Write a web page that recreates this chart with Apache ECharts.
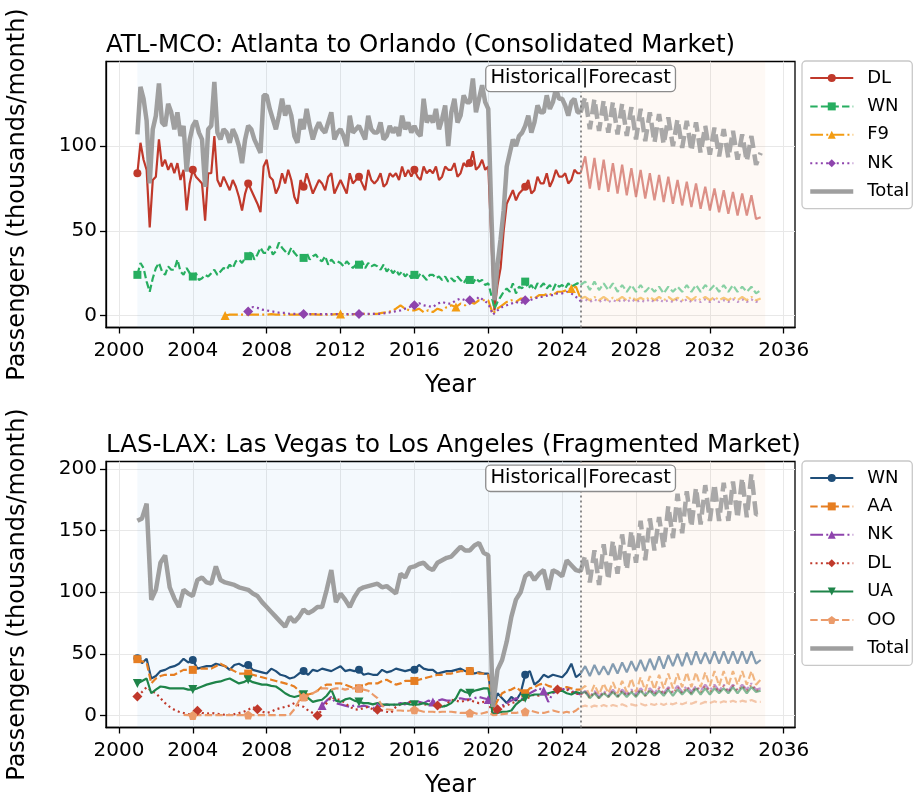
<!DOCTYPE html>
<html><head><meta charset="utf-8">
<script src="https://cdn.jsdelivr.net/npm/echarts@6/dist/echarts.min.js"></script>
<style>html,body{margin:0;padding:0;background:#fff}#c{width:915px;height:797px}</style>
</head><body><div id="c"></div>
<script>
// ---------- DATA (thousands of passengers / month) ----------
const Q = 0.25;      // quarterly samples
const B = 1 / 6;     // bimonthly samples
const HIST_START = 2001, FCST_START = 2025, FCST_END = 2035;
const X_TICKS = [2000,2004,2008,2012,2016,2020,2024,2028,2032,2036];
const Y_TICKS_ATL = [0,50,100];
const Y_TICKS_LAS = [0,50,100,150,200];

// ATL-MCO (history bimonthly for DL / WN / Total, quarterly otherwise; forecast quarterly)
const ATL_DL_H = [84,102,92,86,52,80, 82,104,88,92,86,90, 84,90,80,86,62,78, 86,82,80,78,56,84, 84,106,80,76,82,78, 74,80,76,70,62,72, 78,74,70,66,61,88, 92,82,80,72,76,84, 78,86,80,70,66,80, 76,84,78,72,76,80, 78,74,82,84,72,76, 80,76,72,84,78,80, 82,78,74,86,80,78, 80,84,76,78,84,82, 84,80,88,82,86,82, 86,82,80,88,84,86, 84,88,80,82,88,86, 86,90,82,84,90,88, 90,97,86,88,92,86, 88,45,3,18,28,50, 66,70,74,68,72,74, 76,80,72,74,82,78, 78,84,76,80,86,82, 82,84,78,80,86,84];
const ATL_DL_F = [84,94,75,93, 74,92,73,90, 72,89,71,87, 70,86,69,84, 68,83,67,82, 66,80,65,79, 64,78,63,76, 62,75,61,74, 60,73,59,72, 59,71,57,58];
const ATL_WN_H = [24,31,28,20,14,22, 28,31,26,24,29,27, 27,33,26,24,28,25, 23,25,21,22,24,23, 25,27,24,26,28,27, 30,28,32,33,31,34, 35,38,33,36,40,37, 37,41,36,38,43,40, 38,36,40,37,35,34, 34,37,33,35,36,33, 32,35,30,33,31,32, 31,29,32,30,28,30, 30,32,28,31,29,30, 29,27,30,26,28,25, 27,24,26,23,25,22, 24,22,25,23,21,24, 24,22,23,21,23,20, 22,20,23,21,19,22, 21,19,22,20,21,18, 19,12,4,8,11,14, 16,14,19,13,17,16, 20,16,18,15,19,17, 19,16,18,15,19,17, 18,16,19,17,18,19];
const ATL_WN_F = [18,20,15,20, 15,19,15,19, 14,18,14,18, 14,18,14,17, 14,17,13,17, 14,17,14,18, 14,18,14,18, 15,18,14,18, 14,18,14,17, 14,17,13,15];
const ATL_F9_START = 2005.75;
const ATL_F9_H = [0, 0.5,0.5,0.5,0.5, 0.5,0.5,0.5,0.5, 0.5,0.8,0.5,0.5, 0.5,0.5,0.5,0.5, 0.5,0.5,0.8,0.5, 0.5,0.5,0.5,0.8, 0.8,0.8,0.5,0.8, 0.8,1,0.8,1, 1,1.5,2,2.5, 4,6,4,3, 3,4,2,3, 2,4,3,5, 6,5,7,6, 8,7,9,9, 9,1,4,6, 8,9,8,10, 10,11,10,12, 12,13,12,14, 14,15,16,17];
const ATL_F9_F = [10,11,9,11, 9,11,9,10.5, 9,11,9,11, 9,10.5,9,11, 9,11,9,11, 9,10.5,9,11, 9,11,9,11, 9,11,9,10.5, 9,11,9,11, 9,11,9,10];
const ATL_NK_START = 2007;
const ATL_NK_H = [2.4,5,4.5,3.5, 3,2.5,2,1.5, 1.5,1,1,1, 0.8,0.8,0.8,0.8, 0.8,0.8,0.8,0.8, 0.8,0.8,0.8,0.8, 0.8,1,1,1, 1,1,1.5,2, 2.5,3,4,5, 6,7.3,6,5.5, 5,7,8,7, 7,9,10,9, 9,8.3,11,9, 7,0.5,3,5, 6,7,8,7, 9,9,10,11, 11,12,12,13, 13,14,13,11];
const ATL_NK_F = [8.5,9.5,8,9.5, 8,9.5,8,9, 8,9.5,8,9.5, 8,9,8,9.5, 8,9.5,8,9, 8,9.5,8,9.5, 8,9,8,9.5, 8,9.5,8,9, 8,9.5,8,9.5, 8,9.5,8,9];
const ATL_TOT_H = [107,135,128,115,78,110, 118,137,114,112,125,120, 110,120,106,112,85,104, 112,115,108,104,76,110, 112,138,108,104,110,108, 102,110,106,100,90,104, 112,110,104,100,96,130, 130,122,116,110,118,128, 118,124,118,106,102,116, 110,122,112,104,110,114, 110,108,114,120,104,108, 110,106,100,118,108,110, 112,108,104,118,110,108, 108,114,104,106,112,108, 111,106,118,110,114,108, 112,108,106,128,114,118, 114,122,110,116,124,100, 120,128,114,118,130,126, 126,140,120,128,136,126, 122,60,9,30,45,62, 88,96,104,100,106,108, 112,118,108,114,124,120, 120,130,122,126,134,128, 128,124,118,126,128,120];
const ATL_TOT_F = [120,129,110,128, 109,127,108,126, 107,125,106,123, 104,122,103,120, 102,119,101,117, 100,116,99,115, 97,114,96,112, 95,111,94,110, 93,109,92,107, 91,106,89,96];

// LAS-LAX (quarterly)
const LAS_WN_H = [46.5,42.5,46,30, 32,36,37,39, 40,42,46,43, 45,38,39,40, 40,42,41,40, 37,41,42,40, 41,37,36,35, 34,38,36,33, 32,30,31,34, 36,33,37,36, 38,37,36,38, 40,36,37,36, 37,33,34,33, 33,37,35,36, 38,37,36,37, 37,41,38,37, 37,34,35,36, 36,37,38,36, 36,34,35,34, 34,6,18,14, 10,15,12,18, 33,36,25,28, 33,31,33,32, 31,35,42,31];
const LAS_WN_F = [34,40,32,41, 33,40,33,42, 34,43,35,44, 36,45,36,46, 37,48,38,49, 40,50,40,51, 41,52,42,51, 42,52,42,52, 42,52,42,52, 42,52,42,45];
const LAS_AA_H = [45.7,44,43,26, 30,32,33,33, 33,35,37,37, 37,38,38,38, 38,40,42,40, 38,36,34,34, 34,33,32,31, 30,29,28,27, 26,25,23.5,20, 15,17,18,20, 23.5,25,25,26, 26,25,23.5,22, 22,24,26,26, 26,28,29,27, 25,26,28,28, 28,29,30,31, 32,33,33,34, 34,35,36,36, 36,35,34,34, 33,4,12,18, 20,21,23,20, 18,22,23,25, 26,24,23,22, 22,23,22,21];
const LAS_AA_F = [21,24,16,25, 17,26,18,27, 18,28,19,30, 19,31,20,32, 21,33,22,34, 22,34,23,35, 23,35,23,35, 24,36,24,36, 24,36,25,36, 25,36,25,29];
const LAS_NK_START = 2011;
const LAS_NK_H = [8,12,15,10, 9,8,7,8, 7,8,7,6, 7,8,9,8, 9,10,9,11, 10,11,10,12, 11,12,13,12, 12,13,14,13, 13,14,15,14, 13,1,4,8, 10,12,14,13, 15,18,20,22, 20,11,18,20, 21,22,20,18];
const LAS_NK_F = [17,20,15,20, 15,20,16,21, 16,21,17,21, 17,22,18,22, 18,23,18,23, 19,24,19,24, 19,24,20,25, 20,25,20,25, 20,25,21,25, 21,26,21,22];
const LAS_DL_H = [15.4,19,23,20, 18,14,10,7, 4.6,3,2,1, 0.5,3.8,2,1.5, 2,1.5,1,0.5, 0.5,1,2,3, 4.6,6.8,5,3, 2,3,5,6, 7,8,10,8, 7,4,2,0, 4.6,10,15,13, 12.7,10,7,5, 4.6,6,7,5, 4.6,4,3,2.4, 7,9,10,11, 11,10,8.7,9, 10,8,6,9, 12.7,12,11,12, 12.7,11,10,11, 11,1,5,7, 8,10,11,12, 13,15,17,16, 18,17,19,21, 20,21,19,18];
const LAS_DL_F = [17,19,14,19, 14,19,15,20, 15,20,16,20, 16,21,16,21, 17,22,17,22, 18,23,18,23, 18,23,19,24, 19,24,19,24, 19,24,20,24, 20,25,20,21];
const LAS_UA_H = [26,28,30,18, 21,23.5,23,22, 22,22,22,21, 21,22,23.5,25, 26,27,27.6,29, 30,28,26,27, 29,27,26,25, 25,24,23.5,21, 18,16,15,16, 16.8,14,11,12, 12.7,16,21,12, 11,13,14,12, 11,10,10,9, 10,9,8.7,8.7, 8.7,9,10,9, 8.7,9,10,9, 8.7,8,7,8, 10,14,21,19, 18,20,21,22, 22,0.5,2,3, 3,4,9,12, 14,16,17,17, 17,18,19,20, 20,18,17,19];
const LAS_UA_F = [18,19,14,18, 14,18,15,19, 15,19,15,19, 15,20,16,20, 16,20,16,21, 16,21,17,21, 17,22,17,22, 17,22,18,22, 18,23,18,23, 18,23,19,20];
const LAS_OO_START = 2003.5;
const LAS_OO_H = [0.5,0.3, 0,0.3,0.3,0.3, 0.3,0.3,0.3,0.3, 0.3,0.3,0.3,0.3, 0.3,0.3,0.3,0.3, 0.3,0.3,0.3,0.3, 0.3,0.5,5,12, 15,16,18,20, 22,22,21,22, 22,21,22,22, 22,21,20,17, 14,8,5,4.6, 4,4,3.5,4, 4.6,4,3,3, 3,2.5,3,3, 3,2.5,2,2, 2,2,1,2, 3,0.3,0.5,1, 1.5,2,2,3, 3,4,3,2, 2,3,4,3, 2,3,2,4];
const LAS_OO_F = [7,8,6.5,8, 7,8.5,7,8.5, 7.5,9,7.5,9, 8,9.5,8,9.5, 8.5,10,8.5,10, 9,10.5,9,10.5, 9.5,11,9.5,11, 10,11.5,10,11.5, 10.5,12,10.5,12, 11,12.5,11,11];
const LAS_TOT_H = [158,160,172,94, 102,124,130,104, 95,88,102,99, 97,110,112,108, 107,121,110,108, 107,106,104,103, 102,99,97,92, 88,84,80,76, 72,80,76,80, 86,83,85,88, 88,102,118,92, 99,94,88,96, 102,104,105,106, 107,104,105,102, 99,115,112,120, 121,123,124,120, 118,124,126,128, 129,133,137,134, 134,138,140,132, 130,7,37,45, 60,80,94,100, 113,116,110,115, 118,102,118,116, 113,126,122,118];
const LAS_TOT_F = [117,130,108,134, 106,139,110,142, 115,147,118,150, 124,158,126,160, 134,161,136,170, 144,180,148,182, 153,185,155,187, 158,188,158,189, 158,190,160,193, 161,196,163,164];

// ---------- STYLE ----------
const FONT = 'DejaVu Sans';
const DASH = [7.4, 3.2], DOT = [2, 3.3], DASHDOT = [12.8, 3.2, 2, 3.2], TOT_DASH = [14.8, 6.4];
const TRI_DOWN = 'path://M-5,-4 L5,-4 L0,5 Z';
const PENTA = 'path://M0,-10 L9.5,-3.1 L5.9,8.1 L-5.9,8.1 L-9.5,-3.1 Z';
const TOTAL_COLOR = '#9a9a9a', TOTAL_W = 4.5;

function mk(o) {
  const start = o.start ?? HIST_START;
  const step = o.step || Q;
  const off = o.offset || 0;
  const hData = o.hist.map((v, i) => ({
    value: [start + i * step, v],
    symbol: (o.sym && i >= off && (i - off) % o.every === 0) ? o.sym : 'none'
  }));
  hData.push({ value: [FCST_START, o.fc[0]], symbol: 'none' });
  const w = o.width || 2.2;
  const hist = {
    type: 'line', name: o.name, xAxisIndex: o.g, yAxisIndex: o.g, data: hData,
    symbol: o.sym || 'none', symbolSize: o.size || 8, showSymbol: true, showAllSymbol: true,
    itemStyle: { color: o.color, opacity: o.op || 1 },
    lineStyle: { color: o.color, width: w, type: o.dash || 'solid', opacity: o.op || 1 },
    z: o.z || 3, silent: true, animation: false
  };
  const fc = {
    type: 'line', name: o.name + ' forecast', xAxisIndex: o.g, yAxisIndex: o.g,
    data: o.fc.map((v, i) => [FCST_START + i * Q, v]),
    symbol: 'none', showSymbol: false,
    lineStyle: { color: o.color, width: w, type: o.fcDash || o.dash || 'solid', opacity: o.fcOp || 0.55 },
    z: o.z || 3, silent: true, animation: false
  };
  return [hist, fc];
}

function backdrop(g, annY) {
  return {
    type: 'line', name: 'bg' + g, xAxisIndex: g, yAxisIndex: g, data: [], z: 1, silent: true,
    markArea: {
      silent: true,
      data: [
        [{ xAxis: HIST_START, itemStyle: { color: 'rgba(52,152,219,0.055)' } }, { xAxis: FCST_START }],
        [{ xAxis: FCST_START, itemStyle: { color: 'rgba(230,126,34,0.045)' } }, { xAxis: FCST_END }]
      ]
    },
    markLine: {
      silent: true, symbol: ['none', 'none'], label: { show: false },
      lineStyle: { color: '#808080', type: [2, 3], width: 1.8 },
      data: [{ xAxis: FCST_START }]
    },
    markPoint: {
      silent: true, symbol: 'rect', symbolSize: 1, itemStyle: { color: 'rgba(0,0,0,0)' },
      label: {
        show: true, position: 'inside', formatter: 'Historical|Forecast', fontFamily: FONT,
        fontSize: 19.5, color: '#000', backgroundColor: '#fff', borderColor: '#8c8c8c',
        borderWidth: 1.3, borderRadius: 4, padding: [3, 4, 2, 4]
      },
      data: [{ coord: [FCST_START, annY] }]
    }
  };
}

const series = [
  backdrop(0, 140),
  ...mk({ g: 0, name: 'DL', color: '#c0392b', hist: ATL_DL_H, step: B, fc: ATL_DL_F, sym: 'circle', size: 8, every: 18 }),
  ...mk({ g: 0, name: 'WN', color: '#27ae60', hist: ATL_WN_H, step: B, fc: ATL_WN_F, dash: DASH, sym: 'rect', size: 8, every: 18 }),
  ...mk({ g: 0, name: 'F9', color: '#f39c12', hist: ATL_F9_H, fc: ATL_F9_F, start: ATL_F9_START, dash: DASHDOT, sym: 'triangle', size: 9, every: 25 }),
  ...mk({ g: 0, name: 'NK', color: '#8e44ad', hist: ATL_NK_H, fc: ATL_NK_F, start: ATL_NK_START, dash: DOT, sym: 'diamond', size: 10, every: 12 }),
  ...mk({ g: 0, name: 'Total', color: TOTAL_COLOR, hist: ATL_TOT_H, step: B, fc: ATL_TOT_F, width: TOTAL_W, op: 0.95, fcDash: TOT_DASH, fcOp: 0.85, z: 4 }),
  backdrop(1, 192.5),
  ...mk({ g: 1, name: 'WN#2', color: '#1f4e79', hist: LAS_WN_H, fc: LAS_WN_F, sym: 'circle', size: 8, every: 12 }),
  ...mk({ g: 1, name: 'AA#2', color: '#e67e22', hist: LAS_AA_H, fc: LAS_AA_F, dash: DASH, sym: 'rect', size: 8, every: 12 }),
  ...mk({ g: 1, name: 'NK#2', color: '#8e44ad', hist: LAS_NK_H, fc: LAS_NK_F, start: LAS_NK_START, dash: DASHDOT, sym: 'triangle', size: 9, every: 12 }),
  ...mk({ g: 1, name: 'DL#2', color: '#c0392b', hist: LAS_DL_H, fc: LAS_DL_F, dash: DOT, sym: 'diamond', size: 10, every: 13 }),
  ...mk({ g: 1, name: 'UA#2', color: '#1e8449', hist: LAS_UA_H, fc: LAS_UA_F, sym: TRI_DOWN, size: 9, every: 12 }),
  ...mk({ g: 1, name: 'OO#2', color: '#eb9b6a', hist: LAS_OO_H, fc: LAS_OO_F, start: LAS_OO_START, dash: DASH, sym: PENTA, size: 9, every: 12, offset: 2 }),
  ...mk({ g: 1, name: 'Total#2', color: TOTAL_COLOR, hist: LAS_TOT_H, fc: LAS_TOT_F, width: TOTAL_W, op: 0.95, fcDash: TOT_DASH, fcOp: 0.85, z: 4 })
];

const GRIDS = [{ top: 61.5 }, { top: 461.5 }];
const YRANGE = [[-7.1, 150], [-9.8, 206.2]];
const YTICKS = [Y_TICKS_ATL, Y_TICKS_LAS];
const fmt = v => String(v);

const legendBase = {
  orient: 'vertical', left: 802, padding: [8, 3, 8, 6], itemGap: 10.4, itemWidth: 43, itemHeight: 10,
  borderColor: '#c8c8c8', borderWidth: 1.3, borderRadius: 4, backgroundColor: '#fff',
  textStyle: { fontSize: 18, color: '#000', fontFamily: FONT, padding: [0, 0, 0, 9] },
  selectedMode: false, formatter: n => n.split('#')[0]
};
const totalLegend = name => ({ name, itemStyle: { opacity: 0 }, lineStyle: { width: TOTAL_W, color: TOTAL_COLOR, type: 'solid' } });

const option = {
  animation: false,
  textStyle: { fontFamily: FONT },
  title: [
    { text: 'ATL-MCO: Atlanta to Orlando (Consolidated Market)', left: 106, top: 33, padding: 0,
      textStyle: { fontSize: 24.5, fontWeight: 'normal', color: '#000', fontFamily: FONT } },
    { text: 'LAS-LAX: Las Vegas to Los Angeles (Fragmented Market)', left: 106, top: 433, padding: 0,
      textStyle: { fontSize: 24.5, fontWeight: 'normal', color: '#000', fontFamily: FONT } }
  ],
  legend: [
    Object.assign({}, legendBase, { top: 61, data: ['DL', 'WN', 'F9', 'NK', totalLegend('Total')] }),
    Object.assign({}, legendBase, { top: 461, data: ['WN#2', 'AA#2', 'NK#2', 'DL#2', 'UA#2', 'OO#2', totalLegend('Total#2')] })
  ],
  grid: GRIDS.map(g => ({ left: 106, top: g.top, width: 689, height: 266, show: true,
    borderColor: '#000', borderWidth: 1.3, backgroundColor: 'rgba(0,0,0,0)', outerBoundsMode: 'none' })),
  xAxis: [0, 1].map(i => ({
    type: 'value', gridIndex: i, min: 1999.30, max: 2036.61,
    name: 'Year', nameLocation: 'middle', nameGap: 46,
    nameTextStyle: { fontSize: 24, color: '#000', fontFamily: FONT },
    axisLine: { show: true, onZero: false, lineStyle: { color: '#000', width: 1.3 } },
    axisTick: { show: true, length: 6, lineStyle: { color: '#000', width: 1.3 }, customValues: X_TICKS },
    axisLabel: { fontSize: 20, color: '#000', margin: 13, customValues: X_TICKS, formatter: fmt, fontFamily: FONT },
    splitLine: { show: true, lineStyle: { color: '#e8e8e8', width: 1 } }
  })),
  yAxis: [0, 1].map(i => ({
    type: 'value', gridIndex: i, min: YRANGE[i][0], max: YRANGE[i][1],
    name: 'Passengers (thousands/month)', nameLocation: 'middle', nameGap: 76, nameRotate: 90,
    nameTextStyle: { fontSize: 24, color: '#000', fontFamily: FONT },
    axisLine: { show: true, onZero: false, lineStyle: { color: '#000', width: 1.3 } },
    axisTick: { show: true, length: 6, lineStyle: { color: '#000', width: 1.3 }, customValues: YTICKS[i] },
    axisLabel: { fontSize: 20, color: '#000', margin: 9, customValues: YTICKS[i], formatter: fmt, fontFamily: FONT },
    splitLine: { show: true, lineStyle: { color: '#e8e8e8', width: 1 } }
  })),
  series
};

const chart = echarts.init(document.getElementById('c'), null, { renderer: 'canvas' });
chart.setOption(option);
</script></body></html>
